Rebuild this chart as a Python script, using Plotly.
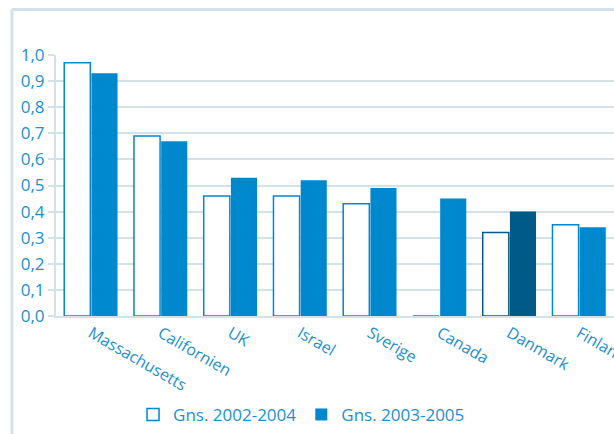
import plotly.graph_objects as go

categories = ["Massachusetts", "Californien", "UK", "Israel", "Sverige", "Canada", "Danmark", "Finland"]
gns_2002_2004 = [0.97, 0.69, 0.46, 0.46, 0.43, 0.0, 0.32, 0.35]
gns_2003_2005 = [0.93, 0.67, 0.53, 0.52, 0.49, 0.45, 0.40, 0.34]
tick_vals = [0.0, 0.1, 0.2, 0.3, 0.4, 0.5, 0.6, 0.7, 0.8, 0.9, 1.0]
tick_text = ["0,0", "0,1", "0,2", "0,3", "0,4", "0,5", "0,6", "0,7", "0,8", "0,9", "1,0"]

BLUE = "#0088cf"
DARK = "#005a87"
TEXT = "#1b8fd2"
GRID = "#d3e1e9"

line_cols = [DARK if c == "Danmark" else BLUE for c in categories]
fill_cols = [DARK if c == "Danmark" else BLUE for c in categories]

fig = go.Figure()
fig.add_trace(go.Bar(
    x=categories, y=gns_2002_2004, name="Gns. 2002-2004",
    marker=dict(color="white", line=dict(color=line_cols, width=1.5)),
))
fig.add_trace(go.Bar(
    x=categories, y=gns_2003_2005, name="Gns. 2003-2005",
    marker=dict(color=fill_cols, line=dict(width=0)),
))

fig.update_layout(
    width=614, height=434,
    margin=dict(l=56, r=0, t=55, b=118, autoexpand=False),
    paper_bgcolor="white", plot_bgcolor="white",
    barmode="group", bargap=0.22, bargroupgap=0.04,
    font=dict(family="Open Sans, DejaVu Sans, sans-serif", color=TEXT, size=16),
    showlegend=True,
    legend=dict(orientation="h", x=0.44, xanchor="center", y=-0.31, yanchor="top",
                font=dict(size=17, color=TEXT), itemwidth=30, traceorder="normal"),
    xaxis=dict(range=[-0.5, 7.5], tickangle=30, showgrid=False, showline=True, automargin=False,
               linecolor=GRID, linewidth=2, ticks="", tickfont=dict(size=16, color=TEXT)),
    yaxis=dict(range=[0, 1.0], tickvals=tick_vals, ticktext=tick_text, showgrid=True, automargin=False,
               gridcolor=GRID, gridwidth=2, showline=True, linecolor=GRID, linewidth=2,
               ticks="outside", ticklen=6, tickcolor=GRID, tickwidth=2,
               tickfont=dict(size=17, color=TEXT), zeroline=False),
    shapes=[
        dict(type="line", xref="paper", yref="paper", x0=-0.079, x1=1.1, y0=1.174, y1=1.174,
             line=dict(color=GRID, width=3)),
        dict(type="line", xref="paper", yref="paper", x0=-0.079, x1=-0.079, y0=1.174, y1=-0.6,
             line=dict(color=GRID, width=3)),
    ],
)

fig.write_html("out.html")
